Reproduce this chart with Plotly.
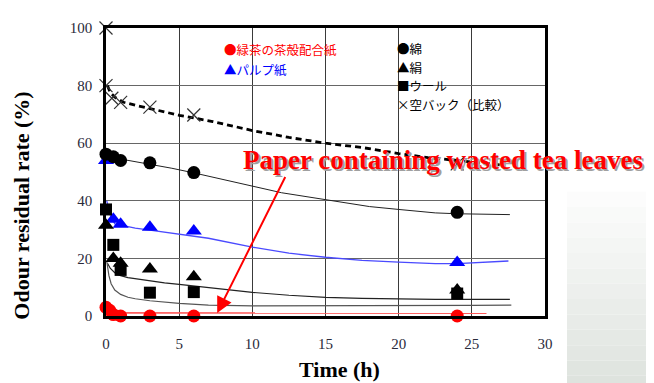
import plotly.graph_objects as go

# ---------------- data ----------------
# measured points
t_pts = [0, 0.5, 1, 3, 6, 24]
t_pts7 = [0, 0.25, 0.5, 1, 3, 6, 24]
tea_paper = [3, 2, 0.5, 0, 0, 0, 0]            # 緑茶の茶殻配合紙 (t_pts7)
pulp = [54, 33.6, 31.9, 30.8, 29.5, 18.6]      # パルプ紙
cotton = [56.2, 55.3, 54, 53.2, 49.8, 36]      # 綿
silk = [31.5, 20, 18.3, 16.3, 13.6, 9]         # 絹
wool = [37, 24.7, 16, 8.1, 8.3, 7.8]           # ウール
t_bag = [0, 0, 0.4, 1, 3, 6, 24]
empty_bag = [100, 80, 75.6, 74.2, 72.5, 69.8, 52.8]  # 空バック(比較)

# fitted curves
fit_tea_t = [0, 26]
fit_tea = [1.1, 1.0]
fit_pulp_t = [0.05, 0.3, 0.6, 1, 2, 3, 5, 7, 10, 12.5, 15, 17.5, 20, 22.5, 24, 25, 27.5]
fit_pulp = [40, 35, 32, 31.5, 30.5, 29.8, 28.3, 27, 23.9, 21.8, 20.4, 19.3, 18.7, 18.2, 18.2, 18.5, 19.1]
fit_cotton_t = [0, 0.5, 1, 2, 3, 4.5, 6, 8, 10, 12, 15, 18, 20, 22.5, 24, 27.6]
fit_cotton = [56.5, 55.3, 54.5, 53.6, 52.8, 51.3, 49.7, 47.3, 45.1, 42.8, 40.3, 38, 37, 35.8, 35.5, 35.2]
fit_silk_t = [0.1, 0.3, 0.6, 1, 1.5, 2, 3, 4, 5, 7, 10, 12.5, 15, 17.5, 20, 22.5, 25, 27.6]
fit_silk = [18.3, 16.5, 15, 14, 13.3, 12.9, 12.2, 11.5, 11, 9.9, 8.2, 7.2, 6.5, 6.1, 5.9, 5.8, 5.8, 5.8]
fit_wool_t = [0.05, 0.2, 0.35, 0.6, 1, 1.5, 2, 3, 5, 7, 10, 15, 20, 25, 27.7]
fit_wool = [19, 14, 11.2, 9, 7.5, 6.5, 6, 5.3, 4.4, 3.8, 3.5, 3.5, 3.6, 3.7, 3.8]
fit_bag_t = [0.1, 0.3, 0.6, 1.2, 2, 2.8, 4, 5, 7.3, 10, 12.5, 15, 17.5, 20, 22, 24, 26.9]
fit_bag = [80, 77.5, 76, 74.2, 73.2, 72.2, 70.8, 69.7, 67.5, 64.4, 62, 60, 58.5, 56.4, 55, 53.9, 52.5]

x_ticks = [0, 5, 10, 15, 20, 25, 30]
y_ticks = [0, 20, 40, 60, 80, 100]

fig = go.Figure()

def line(x, y, color, width=1, dash=None):
    fig.add_trace(go.Scatter(x=x, y=y, mode="lines", showlegend=False, hoverinfo="skip",
                             line=dict(color=color, width=width, dash=dash), cliponaxis=False))

def pts(x, y, color, symbol, size=12, lw=0, lc=None):
    fig.add_trace(go.Scatter(x=x, y=y, mode="markers", showlegend=False, cliponaxis=False,
                             marker=dict(color=color, symbol=symbol, size=size,
                                         line=dict(width=lw, color=lc or color))))

# fitted lines
line(fit_cotton_t, fit_cotton, "#222222", 1)
line(fit_pulp_t, fit_pulp, "#4a4aff", 1.3)
line(fit_silk_t, fit_silk, "#222222", 1.2)
line(fit_wool_t, fit_wool, "#555555", 1.2)
line(fit_tea_t, fit_tea, "#ff5a5a", 1.6)
line(fit_bag_t, fit_bag, "#000000", 2.8, "6px,4px")

# points
pts(t_bag, empty_bag, "#333333", "x-thin", 13, 1.2, "#333333")
pts(t_pts, pulp, "#0000ff", "triangle-up", 14)
pts(t_pts, cotton, "#000000", "circle", 13)
pts(t_pts, wool, "#000000", "square", 12)
pts(t_pts, silk, "#000000", "triangle-up", 14)
pts(t_pts7, tea_paper, "#ff0000", "circle", 13)

serif = "Liberation Serif, Times New Roman, serif"
cjk = "Noto Sans CJK JP"

# white legend boxes
fig.add_shape(type="rect", xref="x", yref="y", x0=7.9, x1=15.6, y0=81.5, y1=96.5,
              fillcolor="white", line_width=0, layer="below")
fig.add_shape(type="rect", xref="x", yref="y", x0=19.5, x1=29.3, y0=68.5, y1=96.5,
              fillcolor="white", line_width=0, layer="below")

# slide background gradient at the right
n = 14
for i in range(n):
    c = int(255 - (255 - 222) * (i / (n - 1)))
    g = int(255 - (255 - 227) * (i / (n - 1)))
    fig.add_shape(type="rect", xref="paper", yref="paper",
                  x0=(567 - 106) / 439, x1=(670 - 106) / 439,
                  y0=(316 - (173 + (i + 1) * 220 / n)) / 295, y1=(316 - (173 + i * 220 / n)) / 295,
                  fillcolor=f"rgb({c},{g},{c})", line_width=0, layer="below")

ann = []
def txt(px, py, s, color, size=12.5, font=cjk):
    ann.append(dict(xref="paper", yref="paper", x=(px - 106) / 439, y=(316 - py) / 295,
                    text=s, showarrow=False, xanchor="left", yanchor="middle",
                    font=dict(family=font, size=size, color=color)))

txt(222, 43, "●緑茶の茶殻配合紙", "#ff0000")
txt(222, 63, "▲パルプ紙", "#0000ff")
txt(395, 42, "●綿", "#000000")
txt(395, 61, "▲絹", "#000000")
txt(395, 80, "■ウール", "#000000")
txt(395, 99, "×空バック（比較）", "#000000")

label = "<b>Paper containing wasted tea leaves</b>"
for col, xs, ys in [("#a0a0a0", 2, -2), ("#ff0000", 0, 0)]:
    ann.append(dict(xref="x", yref="y", x=23.0, y=54.2, text=label, showarrow=False,
                    xanchor="center", yanchor="middle", xshift=xs, yshift=ys,
                    font=dict(family=serif, size=27, color=col)))

ann.append(dict(xref="x", yref="y", x=7.6, y=1.0, ax=12.3, ay=48.8, axref="x", ayref="y",
                text="", showarrow=True, arrowhead=2, arrowsize=1.6, arrowwidth=2,
                arrowcolor="#ff0000"))

ann.append(dict(xref="paper", yref="paper", x=(22 - 106) / 439, y=(316 - 203) / 295,
                text="<b>Odour residual rate (%)</b>", showarrow=False, textangle=-90,
                xanchor="center", yanchor="middle",
                font=dict(family=serif, size=22, color="#000000")))
ann.append(dict(xref="paper", yref="paper", x=(339 - 106) / 439, y=(316 - 371) / 295,
                text="<b>Time (h)</b>", showarrow=False, xanchor="center", yanchor="middle",
                font=dict(family=serif, size=22, color="#000000")))

# the page adds an 8px body margin, so the figure is offset by that amount
fig.update_layout(
    width=654, height=383,
    margin=dict(l=98, r=117, t=13, b=75),
    paper_bgcolor="white", plot_bgcolor="white",
    annotations=ann, showlegend=False,
)
fig.update_xaxes(range=[0, 30], tickvals=x_ticks, ticktext=[str(v) for v in x_ticks],
                 showgrid=True, gridcolor="#3a3a3a", gridwidth=1, zeroline=False,
                 showline=True, linecolor="black", linewidth=2.5, mirror=True, ticks="",
                 ticklabelstandoff=12,
                 tickfont=dict(family=serif, size=15, color="#2a2a3a"))
fig.update_yaxes(range=[0, 100], tickvals=y_ticks, ticktext=[str(v) for v in y_ticks],
                 showgrid=True, gridcolor="#666666", gridwidth=1, zeroline=False,
                 showline=True, linecolor="black", linewidth=2.5, mirror=True, ticks="",
                 ticklabelstandoff=8,
                 tickfont=dict(family=serif, size=15, color="#2a2a3a"))

fig.write_html("out.html")
